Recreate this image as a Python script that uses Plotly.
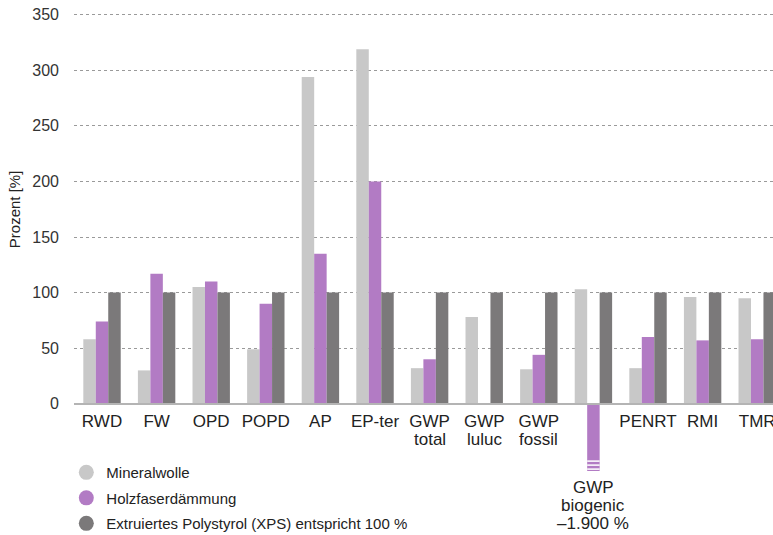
import plotly.graph_objects as go

categories = ["RWD", "FW", "OPD", "POPD", "AP", "EP-ter", "GWP total", "GWP luluc",
              "GWP fossil", "GWP biogenic", "PENRT", "RMI", "TMR"]
tick_line1 = ["RWD", "FW", "OPD", "POPD", "AP", "EP-ter", "GWP", "GWP", "GWP", "",
              "PENRT", "RMI", "TMR"]
tick_line2 = ["", "", "", "", "", "", "total", "luluc", "fossil", "", "", "", ""]
biogenic_label = ["GWP", "biogenic", "\u20131.900 %"]

mineralwolle = [58, 30, 105, 49, 294, 319, 32, 78, 31, 103, 32, 96, 95]
holzfaser = [74, 117, 110, 90, 135, 200, 40, 0, 44, -1900, 60, 57, 58]
xps = [100, 100, 100, 100, 100, 100, 100, 100, 100, 100, 100, 100, 100]

series_names = ["Mineralwolle", "Holzfaserdämmung",
                "Extruiertes Polystyrol (XPS) entspricht 100 %"]
colors = ["#c8c8c8", "#b27bc4", "#7b797a"]

y_ticks = [0, 50, 100, 150, 200, 250, 300, 350]
y_range = [-60.5, 358.7]
bargap = 0.315

FONT = "Liberation Sans, Arial, sans-serif"
TEXT = "#222222"

fig = go.Figure()
for name, vals, col in zip(series_names, [mineralwolle, holzfaser, xps], colors):
    fig.add_trace(go.Bar(x=categories, y=vals, name=name, marker_color=col,
                         marker_line_width=0, showlegend=False, cliponaxis=True))
# legend entries with circular symbols
for i, (name, col) in enumerate(zip(series_names, colors)):
    fig.add_trace(go.Scatter(x=[None], y=[None], mode="markers", name=name,
                             marker=dict(color=col, size=15, symbol="circle"),
                             legendgroup=str(i)))

zero_pos = (0 - y_range[0]) / (y_range[1] - y_range[0])

fig.update_layout(
    width=773, height=535,
    margin=dict(l=74, r=0, t=5, b=64, autoexpand=False),
    plot_bgcolor="white", paper_bgcolor="white",
    barmode="group", bargap=bargap, bargroupgap=0,
    font=dict(family=FONT, color=TEXT, size=15),
    xaxis=dict(
        categoryorder="array", categoryarray=categories,
        range=[-0.513, 12.289],
        tickvals=categories, ticktext=tick_line1,
        tickfont=dict(size=17, color=TEXT),
        showgrid=False, zeroline=False,
        showline=True, linecolor="#b4b4b4", linewidth=2,
        anchor="free", position=zero_pos, ticks="", ticklabelstandoff=2,
        automargin=False,
    ),
    yaxis=dict(
        range=y_range, tickvals=y_ticks,
        tickfont=dict(size=16, color="#333333"),
        showgrid=True, gridcolor="#9a9a9a", gridwidth=1, griddash="3px,3px",
        zeroline=False, ticks="", ticklabelstandoff=14, showline=False,
        automargin=False,
    ),
    legend=dict(
        x=-0.011, y=0.032, xanchor="left", yanchor="top",
        xref="paper", yref="paper",
        traceorder="grouped", tracegroupgap=3,
        font=dict(size=15, color=TEXT), bgcolor="rgba(0,0,0,0)",
        itemsizing="trace",
    ),
    showlegend=True,
)

annotations = []
# y-axis title centred on the 0..350 span
annotations.append(dict(text="Prozent [%]", textangle=-90, xref="paper", yref="y",
                        x=0, y=(y_ticks[0] + y_ticks[-1]) / 2, xshift=-60,
                        xanchor="center", yanchor="middle",
                        showarrow=False, font=dict(size=15, color=TEXT)))
# second line of category labels
for cat, t in zip(categories, tick_line2):
    if t:
        annotations.append(dict(text=t, x=cat, y=0, xref="x", yref="y",
                                yanchor="middle", yshift=-36, showarrow=False,
                                font=dict(size=17, color=TEXT)))
# GWP biogenic label below the truncated bar
for k, t in enumerate(biogenic_label):
    annotations.append(dict(text=t, x="GWP biogenic", y=0, xref="x", yref="y",
                            yanchor="middle", yshift=-84 - 18 * k, showarrow=False,
                            font=dict(size=17, color=TEXT)))
fig.update_layout(annotations=annotations)

# break marks on the truncated bar
idx = categories.index("GWP biogenic")
w = (1 - bargap) / 3
for yv in [-51.6, -55.2, -58.8]:
    fig.add_shape(type="line", xref="x", yref="y",
                  x0=idx - w / 2, x1=idx + w / 2, y0=yv, y1=yv,
                  line=dict(color="white", width=1.5))

fig.write_html("out.html",
               config={"displayModeBar": False},
               post_script="document.body.style.margin='0px';"
                           "document.body.style.overflow='hidden';")
